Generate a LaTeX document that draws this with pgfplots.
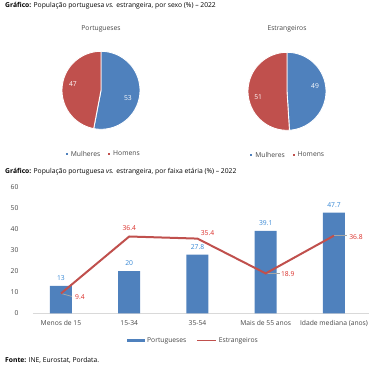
\documentclass[border=0pt]{standalone}
\usepackage{fontspec}
\setmainfont{Open Sans}
\usepackage{pgfplots}
\pgfplotsset{compat=1.18}
\pgfplotsset{/pgf/number format/assume math mode=true}
\definecolor{pblue}{RGB}{79,129,189}
\definecolor{pred}{RGB}{192,80,77}
\definecolor{lblblue}{RGB}{52,134,212}
\definecolor{lblred}{RGB}{218,45,40}
\definecolor{tgrey}{RGB}{70,70,70}
\definecolor{agrey}{RGB}{217,217,217}
\definecolor{leadgrey}{RGB}{166,166,166}
\newcommand\f{\fontsize{6.75}{8.1}\selectfont}
% pie shares (%)
\pgfmathsetmacro\PtM{53}
\pgfmathsetmacro\PtH{47}
\pgfmathsetmacro\EsM{49}
\pgfmathsetmacro\EsH{51}
\pgfmathsetmacro\PtMs{90-\PtM*3.6}
\pgfmathsetmacro\PtHe{90+\PtH*3.6}
\pgfmathsetmacro\EsMs{90-\EsM*3.6}
\pgfmathsetmacro\EsHe{90+\EsH*3.6}
\pgfplotsset{
  pieaxis/.style={
    x=39pt, y=39pt, xmin=-1, xmax=1, ymin=-1, ymax=1,
    hide axis, clip=false, anchor=center,
    legend columns=2,
    legend style={draw=none, fill=none, font=\f, text=tgrey, anchor=center,
      /tikz/every even column/.append style={column sep=5pt}},
  },
  sq/.style={legend image code/.code={\fill[#1] (0pt,-1.5pt) rectangle (3pt,1.5pt);}},
}
\begin{document}
\begin{tikzpicture}
\useasboundingbox (0,0) rectangle (375pt,-366pt);
\node[anchor=west, inner sep=0pt, font=\f] at (5pt,-6pt) {\textbf{Gráfico:} População portuguesa \textit{vs.} estrangeira, por sexo (\%) – 2022};
\node[anchor=center, inner sep=0pt, font=\f, text=tgrey] at (101pt,-29pt) {Portugueses};
\node[anchor=center, inner sep=0pt, font=\f, text=tgrey] at (287pt,-29pt) {Estrangeiros};

% Pie 1
\begin{axis}[pieaxis, at={(101pt,-90.3pt)},
  legend style={at={(0.53,-0.32)}}]
\addplot[sq, fill=pblue, draw=white, line width=0.9pt, domain=\PtMs:90, samples=80] ({cos(x)},{sin(x)}) -- (axis cs:0,0) -- cycle;
\addlegendentry{Mulheres}
\addplot[sq, fill=pred, draw=white, line width=0.9pt, domain=90:\PtHe, samples=80] ({cos(x)},{sin(x)}) -- (axis cs:0,0) -- cycle;
\addlegendentry{Homens}
\node[font=\f, text=white] at (axis cs:0.69,-0.2) {53};
\node[font=\f, text=white] at (axis cs:-0.72,0.15) {47};
\end{axis}

% Pie 2
\begin{axis}[pieaxis, at={(287pt,-91.3pt)},
  legend style={at={(0.51,-0.32)}}]
\addplot[sq, fill=pblue, draw=white, line width=0.9pt, domain=\EsMs:90, samples=80] ({cos(x)},{sin(x)}) -- (axis cs:0,0) -- cycle;
\addlegendentry{Mulheres}
\addplot[sq, fill=pred, draw=white, line width=0.9pt, domain=90:\EsHe, samples=80] ({cos(x)},{sin(x)}) -- (axis cs:0,0) -- cycle;
\addlegendentry{Homens}
\node[font=\f, text=white] at (axis cs:0.72,0.13) {49};
\node[font=\f, text=white] at (axis cs:-0.74,-0.15) {51};
\end{axis}

\node[anchor=west, inner sep=0pt, font=\f] at (5pt,-171.5pt) {\textbf{Gráfico:} População portuguesa \textit{vs.} estrangeira, por faixa etária (\%) – 2022};

% Bar + line chart
\begin{axis}[
  at={(33pt,-313.3pt)}, anchor=south west,
  x=68.25pt, y=2.11pt,
  xmin=-0.41, xmax=4.52, ymin=0, ymax=60,
  clip=false,
  axis x line*=bottom, axis y line*=left,
  x axis line style={draw=agrey, line width=0.8pt, -},
  y axis line style={draw=none},
  major tick length=0pt,
  xtick={0,1,2,3,4},
  xticklabels={Menos de 15, 15-34, 35-54, Mais de 55 anos, Idade mediana (anos)},
  ytick={0,10,20,30,40,50,60},
  tick label style={font=\f, text=tgrey},
  yticklabel style={xshift=-11pt},
  xticklabel style={yshift=-4pt},
  legend columns=2,
  legend style={draw=none, fill=none, font=\f, text=tgrey, at={(0.477,-0.216)}, anchor=center,
    /tikz/every even column/.append style={column sep=8pt}},
]
\addplot[ybar, bar width=22pt, fill=pblue, draw=none,
  legend image code/.code={\fill[pblue] (0pt,-1.7pt) rectangle (18pt,1.7pt);},
  nodes near coords,
  nodes near coords style={anchor=center, yshift=8pt, font=\f, text=lblblue}]
  coordinates {(0,13) (1,20) (2,27.8) (3,39.1) (4,47.7)};
\addlegendentry{Portugueses}
\draw[leadgrey, line width=0.8pt] (axis cs:0,9.4) -- ++(11pt,-3pt);
\draw[leadgrey, line width=0.8pt] (axis cs:3,18.9) -- ++(14pt,0pt);
\draw[leadgrey, line width=0.8pt] (axis cs:4,36.8) -- ++(13pt,0pt);
\addplot[pred, line width=2pt, mark=none,
  legend image code/.code={\draw[pred, line width=1.4pt] (0pt,0pt) -- (19pt,0pt);},
  visualization depends on={value \thisrow{dx}\as\dx},
  visualization depends on={value \thisrow{dy}\as\dy},
  nodes near coords,
  nodes near coords style={anchor=center, xshift=\dx pt, yshift=\dy pt, font=\f, text=lblred}]
  table {
  x y dx dy
  0 9.4 19 -3.8
  1 36.4 0 8.2
  2 35.4 10 5.3
  3 18.9 22 -0.3
  4 36.8 22 -1
  };
\addlegendentry{Estrangeiros}
\end{axis}

\node[anchor=west, inner sep=0pt, font=\f] at (5pt,-360.7pt) {\textbf{Fonte:} INE, Eurostat, Pordata.};
\end{tikzpicture}
\end{document}
